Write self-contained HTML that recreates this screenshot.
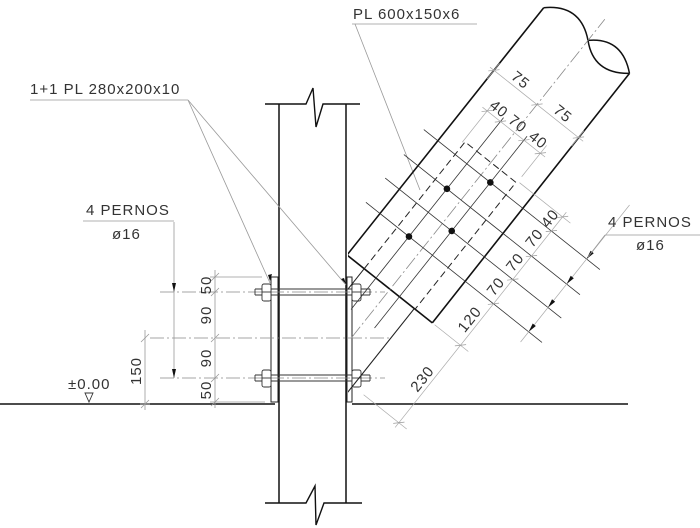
<!DOCTYPE html>
<html><head><meta charset="utf-8"><style>
html,body{margin:0;padding:0;background:#fff}
svg{display:block}
text{font-family:"Liberation Sans",sans-serif;fill:#333;letter-spacing:1px}
</style></head><body>
<svg width="700" height="528" viewBox="0 0 700 528" xmlns="http://www.w3.org/2000/svg">
<defs><clipPath id="cr"><rect x="348" y="0" width="360" height="528"/></clipPath></defs>
<g fill="none" stroke-linecap="butt">
<line x1="0" y1="404" x2="275" y2="404" stroke="#111" stroke-width="1.5"/>
<line x1="352" y1="404" x2="628" y2="404" stroke="#111" stroke-width="1.5"/>
<line x1="279" y1="104" x2="279" y2="503" stroke="#111" stroke-width="1.5"/>
<line x1="346" y1="104" x2="346" y2="503" stroke="#111" stroke-width="1.5"/>
<polyline points="265,104 306,104 313,88 316,127 323,104 360,104" stroke="#111" stroke-width="1.4"/>
<polyline points="265,503 306,503 315,486 316,525 324,503 362,503" stroke="#111" stroke-width="1.4"/>
<rect x="271" y="277" width="7" height="125" stroke="#222" stroke-width="1"/>
<rect x="347" y="277" width="5" height="125" stroke="#222" stroke-width="1"/>
<g stroke="#888" stroke-width="0.8" stroke-dasharray="14,3,2,3">
<line x1="160" y1="292" x2="385" y2="292"/>
<line x1="160" y1="378" x2="385" y2="378"/>
<line x1="150" y1="338" x2="390" y2="338"/>
</g>
<g stroke="#333" stroke-width="0.9">
<line x1="255" y1="289" x2="370" y2="289"/><line x1="255" y1="295" x2="370" y2="295"/>
<line x1="255" y1="375" x2="370" y2="375"/><line x1="255" y1="381" x2="370" y2="381"/>
<line x1="255" y1="289" x2="255" y2="295"/><line x1="370" y1="289" x2="370" y2="295"/>
<line x1="255" y1="375" x2="255" y2="381"/><line x1="370" y1="375" x2="370" y2="381"/>
<rect x="262" y="284" width="9" height="17" rx="2" fill="#fff"/><line x1="262" y1="292" x2="271" y2="292"/>
<rect x="352" y="284" width="9" height="17" rx="2" fill="#fff"/><line x1="352" y1="292" x2="361" y2="292"/>
<rect x="262" y="370" width="9" height="17" rx="2" fill="#fff"/><line x1="262" y1="378" x2="271" y2="378"/>
<rect x="352" y="370" width="9" height="17" rx="2" fill="#fff"/><line x1="352" y1="378" x2="361" y2="378"/>
</g>
<g stroke="#999" stroke-width="0.8">
<line x1="210" y1="277" x2="262" y2="277"/>
<line x1="210" y1="402" x2="265" y2="402"/>
<line x1="215" y1="270" x2="215" y2="408"/>
<line x1="211" y1="281" x2="219" y2="273"/><line x1="211" y1="296" x2="219" y2="288"/>
<line x1="211" y1="342" x2="219" y2="334"/><line x1="211" y1="382" x2="219" y2="374"/>
<line x1="211" y1="406" x2="219" y2="398"/>
<line x1="145" y1="330" x2="145" y2="410"/>
<line x1="140" y1="404" x2="150" y2="404"/>
<line x1="141" y1="342" x2="149" y2="334"/><line x1="141" y1="408" x2="149" y2="400"/>
<line x1="174" y1="222" x2="174" y2="378"/>
<line x1="83" y1="221" x2="174" y2="221"/>
<line x1="30" y1="100" x2="188" y2="100"/>
<line x1="188" y1="100" x2="270" y2="283"/>
<line x1="188" y1="100" x2="346" y2="285"/>
<line x1="352" y1="24" x2="477" y2="24"/>
<line x1="355" y1="24" x2="420" y2="190"/>
<line x1="605" y1="235" x2="700" y2="235"/>
</g>
<polygon points="172,283 176,283 174,292" fill="#111"/>
<polygon points="172,369 176,369 174,378" fill="#111"/>
<polygon points="268,275 270,281 272,274" fill="#111"/>
<polygon points="344,278 346,284 341,279" fill="#111"/>
<polygon points="85,393 93,393 89,402" stroke="#333" stroke-width="0.9"/>
<g clip-path="url(#cr)">
<g transform="translate(347,255) rotate(38.5)">
<line x1="0" y1="0" x2="0" y2="-316" stroke="#111" stroke-width="1.6"/>
<line x1="109" y1="0" x2="108" y2="-318" stroke="#111" stroke-width="1.6"/>
<line x1="0" y1="0" x2="109" y2="0" stroke="#111" stroke-width="1.6"/>
<path d="M0,-316 Q27,-342 55,-318 Q80,-295 108,-318 M55,-318 Q80,-342 108,-318" stroke="#111" stroke-width="1.5"/>
<line x1="55" y1="62" x2="55" y2="-345" stroke="#888" stroke-width="0.8" stroke-dasharray="14,3,2,3"/>
<path d="M22,0 V-162 H87 V0" stroke="#222" stroke-width="1" stroke-dasharray="7,4"/>
<line x1="22" y1="0" x2="22" y2="110" stroke="#222" stroke-width="1"/>
<line x1="86" y1="0" x2="86" y2="110" stroke="#222" stroke-width="1.1"/>
<g stroke="#333" stroke-width="0.8">
<line x1="37" y1="40" x2="37" y2="-205"/>
<line x1="67" y1="40" x2="67" y2="-205"/>
<line x1="-18" y1="-53" x2="207" y2="-53"/>
<line x1="-18" y1="-84" x2="207" y2="-84"/>
<line x1="-18" y1="-114" x2="207" y2="-114"/>
<line x1="-18" y1="-146" x2="207" y2="-146"/>
</g>
<g stroke="#aaa" stroke-width="0.7">
<line x1="112" y1="0" x2="155" y2="0"/>
<line x1="90" y1="-164" x2="155" y2="-164"/>
<line x1="100" y1="99" x2="155" y2="99"/>
<line x1="145" y1="105" x2="145" y2="-170"/>
<line x1="190" y1="-40" x2="190" y2="-215"/>
<line x1="20" y1="-160" x2="20" y2="-210"/><line x1="88" y1="-170" x2="88" y2="-210"/>
<line x1="14" y1="-200" x2="94" y2="-200"/>
<line x1="0" y1="-225" x2="0" y2="-245"/><line x1="108" y1="-225" x2="108" y2="-245"/>
<line x1="-5" y1="-236" x2="114" y2="-236"/>
<g stroke="#999">
<line x1="141" y1="4" x2="149" y2="-4"/><line x1="141" y1="-49" x2="149" y2="-57"/>
<line x1="141" y1="-80" x2="149" y2="-88"/><line x1="141" y1="-110" x2="149" y2="-118"/>
<line x1="141" y1="-142" x2="149" y2="-150"/><line x1="141" y1="-160" x2="149" y2="-168"/>
<line x1="141" y1="103" x2="149" y2="95"/>
<line x1="16" y1="-196" x2="24" y2="-204"/><line x1="33" y1="-196" x2="41" y2="-204"/>
<line x1="63" y1="-196" x2="71" y2="-204"/><line x1="84" y1="-196" x2="92" y2="-204"/>
<line x1="-4" y1="-232" x2="4" y2="-240"/><line x1="51" y1="-232" x2="59" y2="-240"/>
<line x1="104" y1="-232" x2="112" y2="-240"/>
</g>
</g>
<g fill="#111">
<polygon points="188,-62 192,-62 190,-53"/>
<polygon points="188,-93 192,-93 190,-84"/>
<polygon points="188,-123 192,-123 190,-114"/>
<polygon points="188,-155 192,-155 190,-146"/>
<circle cx="37" cy="-53" r="3.3"/><circle cx="67" cy="-84" r="3.3"/>
<circle cx="37" cy="-114" r="3.3"/><circle cx="67" cy="-146" r="3.3"/>
</g>
<g font-size="15">
<text transform="translate(141,-26) rotate(-90)" text-anchor="middle">120</text>
<text transform="translate(141,-68) rotate(-90)" text-anchor="middle">70</text>
<text transform="translate(141,-99) rotate(-90)" text-anchor="middle">70</text>
<text transform="translate(141,-130) rotate(-90)" text-anchor="middle">70</text>
<text transform="translate(141,-155) rotate(-90)" text-anchor="middle">40</text>
<text transform="translate(141,50) rotate(-90)" text-anchor="middle">230</text>
<text x="28" y="-204" text-anchor="middle">40</text>
<text x="52" y="-204" text-anchor="middle">70</text>
<text x="78" y="-204" text-anchor="middle">40</text>
<text x="27" y="-240" text-anchor="middle">75</text>
<text x="81" y="-240" text-anchor="middle">75</text>
</g>
</g>
</g>
<line x1="588" y1="257" x2="605" y2="235" stroke="#999" stroke-width="0.8"/>
</g>
<g font-size="15" style="letter-spacing:1.6px">
<text x="30" y="94">1+1  PL  280x200x10</text>
<text x="353" y="19">PL  600x150x6</text>
<text x="86" y="215">4  PERNOS</text>
<text x="112" y="239">ø16</text>
<text x="608" y="227">4  PERNOS</text>
<text x="636" y="250">ø16</text>
<text x="68" y="389">±0.00</text>
</g>
<g font-size="15">
<text transform="translate(211,285) rotate(-90)" text-anchor="middle">50</text>
<text transform="translate(211,315) rotate(-90)" text-anchor="middle">90</text>
<text transform="translate(211,358) rotate(-90)" text-anchor="middle">90</text>
<text transform="translate(211,390) rotate(-90)" text-anchor="middle">50</text>
<text transform="translate(141,371) rotate(-90)" text-anchor="middle">150</text>
</g>
</svg>
</body></html>
